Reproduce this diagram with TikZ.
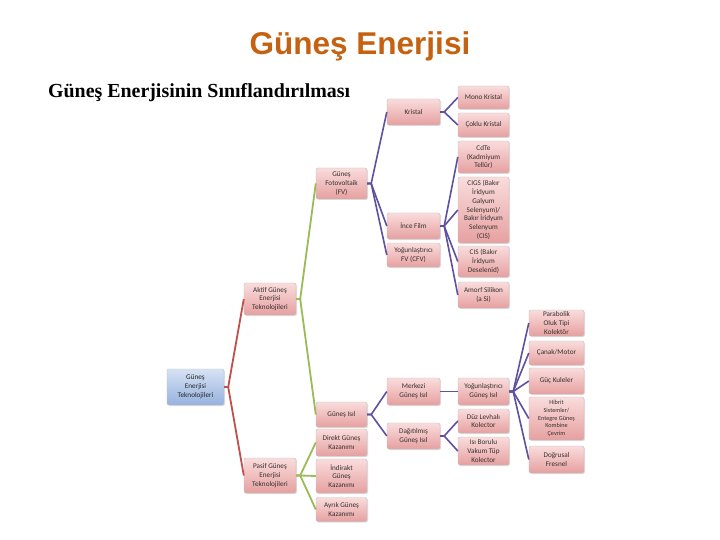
\documentclass[tikz,border=0pt]{standalone}
\usepackage{fontspec}
\setmainfont{Carlito}
\newfontfamily\baslikfont{Liberation Sans}
\newfontfamily\altbaslikfont{Liberation Serif}
\usetikzlibrary{shadows}
\definecolor{baslikrenk}{RGB}{197,98,18}
\definecolor{kirmizihat}{RGB}{192,80,77}
\definecolor{yesilhat}{RGB}{155,187,89}
\definecolor{morhat}{RGB}{96,80,160}
\definecolor{pembeust}{RGB}{250,220,220}
\definecolor{pembealt}{RGB}{230,160,160}
\definecolor{maviust}{RGB}{214,226,244}
\definecolor{mavialt}{RGB}{150,178,222}
\definecolor{yazirenk}{RGB}{55,48,48}

\begin{document}
\begin{tikzpicture}[
		x=1pt, y=-1pt,
		kutu/.style={draw=gray!50, rounded corners=2pt, align=center, inner sep=1pt,
			top color=pembeust, bottom color=pembealt, text=yazirenk,
			font=\fontsize{7.2}{8.8}\selectfont,
			drop shadow={shadow xshift=1pt, shadow yshift=-1pt, opacity=0.25}},
		kok/.style={kutu, top color=maviust, bottom color=mavialt, text=black!85},
		k2/.style={kutu, minimum width=52pt},
		k3/.style={kutu, minimum width=51pt},
		k4/.style={kutu, minimum width=53pt},
		k5/.style={kutu, minimum width=51pt},
		k6/.style={kutu, minimum width=55pt},
		kirmizi/.style={draw=kirmizihat, line width=1.8pt},
		yesil/.style={draw=yesilhat, line width=1.8pt},
		mor/.style={draw=morhat, line width=1.6pt}
		]
		
		\fill[white] (0,0) rectangle (720,540);
		\useasboundingbox (0,0) rectangle (720,540);
		
		% Titles
		\node[font=\baslikfont\bfseries\fontsize{31.5}{36}\selectfont, text=baslikrenk] (baslik) at (360,46) {Güneş Enerjisi};
		\node[font=\altbaslikfont\bfseries\fontsize{19.9}{23}\selectfont, anchor=west, inner sep=0pt] (altbaslik) at (48,93) {Güneş Enerjisinin Sınıflandırılması};
		
		% -------------------------
		% Root and level 2
		% -------------------------
		\node[kok, minimum width=57pt, minimum height=36pt] (kok) at (195.5,387) {Güneş\\Enerjisi\\Teknolojileri};
		
		\node[k2, minimum height=32pt] (aktif) at (270,299) {Aktif Güneş\\Enerjisi\\Teknolojileri};
		\node[k2, minimum height=35pt] (pasif) at (270,475.5) {Pasif Güneş\\Enerjisi\\Teknolojileri};
		
		% -------------------------
		% Level 3
		% -------------------------
		\node[k3, minimum height=31pt] (fv) at (341.5,183.5) {Güneş\\Fotovoltaik\\(FV)};
		\node[k3, minimum height=25pt] (isil) at (341.5,414.5) {Güneş Isıl};
		\node[k3, minimum height=27pt] (direkt) at (341.5,442.5) {Direkt Güneş\\Kazanımı};
		\node[k3, minimum height=34pt] (indirekt) at (341.5,476) {İndirakt\\Güneş\\Kazanımı};
		\node[k3, minimum height=24pt] (ayrik) at (341.5,509.5) {Ayrık Güneş\\Kazanımı};
		
		% -------------------------
		% Level 4
		% -------------------------
		\node[k4, minimum height=26pt] (kristal) at (413.5,112) {Kristal};
		\node[k4, minimum height=26pt] (incefilm) at (413.5,226) {İnce Film};
		\node[k4, minimum height=24pt] (cfv) at (413.5,255) {Yoğunlaştırıcı\\FV (CFV)};
		\node[k4, minimum height=27pt] (merkezi) at (413.5,391.5) {Merkezi\\Güneş Isıl};
		\node[k4, minimum height=26pt] (dagitik) at (413.5,436) {Dağıtılmış\\Güneş Isıl};
		
		% -------------------------
		% Level 5
		% -------------------------
		\node[k5, minimum height=23pt] (mono) at (483.5,97.5) {Mono Kristal};
		\node[k5, minimum height=24pt] (coklu) at (483.5,125) {Çoklu Kristal};
		\node[k5, minimum height=32pt] (cdte) at (483.5,157) {CdTe\\(Kadmiyum\\Tellür)};
		\node[k5, minimum height=66pt] (cigs) at (483.5,210) {CIGS (Bakır\\İridyum\\Galyum\\Selenyum)/\\Bakır İridyum\\Selenyum\\(CIS)};
		\node[k5, minimum height=31pt] (cis) at (483.5,261.5) {CIS (Bakır\\İridyum\\Deselenid)};
		\node[k5, minimum height=26pt] (amorf) at (483.5,295) {Amorf Silikon\\(a Si)};
		\node[k5, minimum height=27pt] (ygisil) at (483.5,391.5) {Yoğunlaştırıcı\\Güneş Isıl};
		\node[k5, minimum height=24pt] (duz) at (483.5,421) {Düz Levhalı\\Kolector};
		\node[k5, minimum height=28pt] (vakum) at (483.5,451) {Isı Borulu\\Vakum Tüp\\Kolector};
		
		% -------------------------
		% Level 6
		% -------------------------
		\node[k6, minimum height=26pt] (parabolik) at (556.5,323) {Parabolik\\Oluk Tipi\\Kolektör};
		\node[k6, minimum height=24pt] (canak) at (556.5,353) {Çanak/Motor};
		\node[k6, minimum height=26pt] (kule) at (556.5,381) {Güç Kuleler};
		\node[k6, minimum height=43pt, font=\fontsize{6.2}{7.8}\selectfont] (hibrit) at (556.5,418.5) {Hibrit\\Sistemler/\\Entegre Güneş\\Kombine\\Çevrim};
		\node[k6, minimum height=27pt] (fresnel) at (556.5,459.5) {Doğrusal\\Fresnel};
		
		% -------------------------
		% Connectors
		% -------------------------
		\draw[kirmizi] (kok.east) -- ++(4,0) -- (aktif.west);
		\draw[kirmizi] (kok.east) -- ++(4,0) -- (pasif.west);
		
		\draw[yesil] (aktif.east) -- ++(4,0) -- (fv.west);
		\draw[yesil] (aktif.east) -- ++(4,0) -- (isil.west);
		\draw[yesil] (pasif.east) -- ++(4,0) -- (direkt.west);
		\draw[yesil] (pasif.east) -- ++(4,0) -- (indirekt.west);
		\draw[yesil] (pasif.east) -- ++(4,0) -- (ayrik.west);
		
		\draw[mor] (fv.east) -- ++(4,0) -- (kristal.west);
		\draw[mor] (fv.east) -- ++(4,0) -- (incefilm.west);
		\draw[mor] (fv.east) -- ++(4,0) -- (cfv.west);
		\draw[mor] (isil.east) -- ++(4,0) -- (merkezi.west);
		\draw[mor] (isil.east) -- ++(4,0) -- (dagitik.west);
		
		\draw[mor] (kristal.east) -- ++(4,0) -- (mono.west);
		\draw[mor] (kristal.east) -- ++(4,0) -- (coklu.west);
		\draw[mor] (incefilm.east) -- ++(4,0) -- (cdte.west);
		\draw[mor] (incefilm.east) -- ++(4,0) -- (cigs.west);
		\draw[mor] (incefilm.east) -- ++(4,0) -- (cis.west);
		\draw[mor] (incefilm.east) -- ++(4,0) -- (amorf.west);
		\draw[mor] (merkezi.east) -- (ygisil.west);
		\draw[mor] (dagitik.east) -- ++(4,0) -- (duz.west);
		\draw[mor] (dagitik.east) -- ++(4,0) -- (vakum.west);
		
		\draw[mor] (ygisil.east) -- ++(4,0) -- (parabolik.west);
		\draw[mor] (ygisil.east) -- ++(4,0) -- (canak.west);
		\draw[mor] (ygisil.east) -- ++(4,0) -- (kule.west);
		\draw[mor] (ygisil.east) -- ++(4,0) -- (hibrit.west);
		\draw[mor] (ygisil.east) -- ++(4,0) -- (fresnel.west);
		
	\end{tikzpicture}
\end{document}
